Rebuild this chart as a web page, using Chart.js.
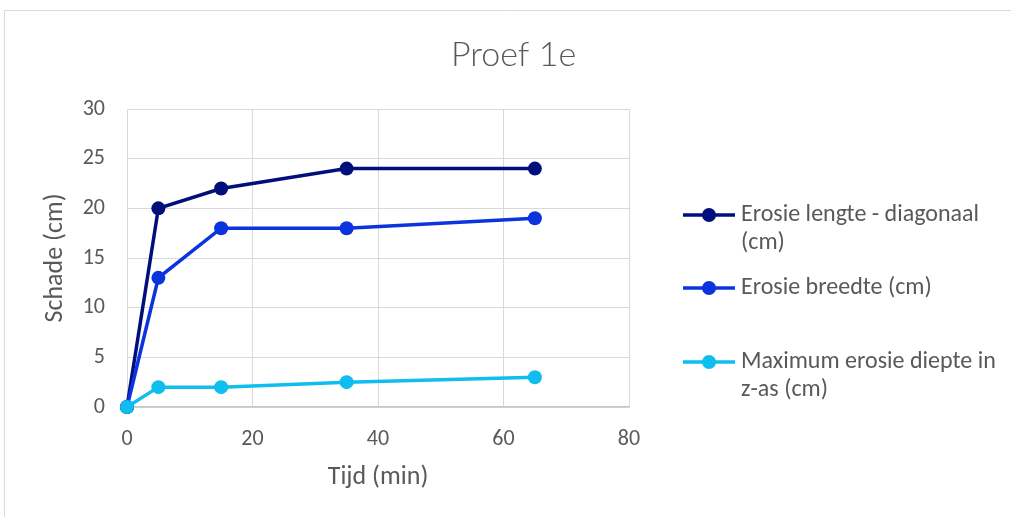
<!DOCTYPE html>
<html>
<head>
<meta charset="utf-8">
<title>Proef 1e</title>
<script src="https://cdn.jsdelivr.net/npm/chart.js@4.4.1/dist/chart.umd.min.js"></script>
<style>
  html, body { margin: 0; padding: 0; background: #fff; }
  canvas { display: block; }
</style>
</head>
<body>
<canvas id="chart" width="1011" height="517"></canvas>
<script>
// --- DATA ---
const timeMin = [0, 5, 15, 35, 65];
const erosieLengte = [0, 20, 22, 24, 24];
const erosieBreedte = [0, 13, 18, 18, 19];
const erosieDiepte = [0, 2, 2, 2.5, 3];
const seriesNames = [
    ['Erosie lengte - diagonaal', '(cm)'],
    ['Erosie breedte (cm)'],
    ['Maximum erosie diepte in', 'z-as (cm)']
];
const seriesColors = ['#000F7C', '#0B34DE', '#0FBEEE'];
const chartTitle = 'Proef 1e';
const xTitle = 'Tijd (min)';
const yTitle = 'Schade (cm)';

const FONT = 'Carlito, Lato, sans-serif';
const TEXT = '#595959';
const GRID = '#d9d9d9';

function toPoints(ys) {
    return timeMin.map((t, i) => ({ x: t, y: ys[i] }));
}

// --- PLUGINS ---
// light frame + title centred on the whole picture
const frame = {
    id: 'frame',
    beforeDraw(chart) {
        const ctx = chart.ctx;
        ctx.save();
        ctx.strokeStyle = GRID;
        ctx.lineWidth = 1;
        ctx.beginPath();
        ctx.moveTo(4.5, chart.height);
        ctx.lineTo(4.5, 10.5);
        ctx.lineTo(chart.width, 10.5);
        ctx.stroke();

        ctx.fillStyle = TEXT;
        ctx.font = '300 34px Lato, ' + FONT;
        ctx.textAlign = 'center';
        ctx.textBaseline = 'middle';
        ctx.fillText(chartTitle, chart.width / 2 + 8, 55);
        ctx.restore();
    }
};

// legend on the right with wrapped labels
const sideLegend = {
    id: 'sideLegend',
    afterDraw(chart) {
        const ctx = chart.ctx;
        const x0 = chart.chartArea.right + 54;
        const itemY = [215, 288, 362];
        ctx.save();
        ctx.font = '24px ' + FONT;
        ctx.textBaseline = 'middle';
        ctx.textAlign = 'left';
        chart.data.datasets.forEach((ds, i) => {
            const y = itemY[i];
            ctx.strokeStyle = ds.borderColor;
            ctx.lineWidth = 3.5;
            ctx.beginPath();
            ctx.moveTo(x0, y);
            ctx.lineTo(x0 + 52, y);
            ctx.stroke();
            ctx.fillStyle = ds.backgroundColor;
            ctx.beginPath();
            ctx.arc(x0 + 26, y, 7, 0, Math.PI * 2);
            ctx.fill();
            ctx.fillStyle = TEXT;
            ds.legendLines.forEach((line, k) => {
                ctx.fillText(line, x0 + 58, y + k * 28);
            });
        });
        ctx.restore();
    }
};

function makeSeries(ys, i, order) {
    return {
        label: seriesNames[i].join(' '),
        legendLines: seriesNames[i],
        data: toPoints(ys),
        showLine: true,
        clip: false,
        borderColor: seriesColors[i],
        backgroundColor: seriesColors[i],
        borderWidth: 3.5,
        pointRadius: 7,
        pointHoverRadius: 7,
        pointBorderWidth: 0,
        order: order
    };
}

new Chart(document.getElementById('chart'), {
    type: 'scatter',
    data: {
        datasets: [
            makeSeries(erosieLengte, 0, 2),
            makeSeries(erosieBreedte, 1, 1),
            makeSeries(erosieDiepte, 2, 0)
        ]
    },
    options: {
        responsive: false,
        animation: false,
        layout: { padding: { left: 40, right: 382, top: 109, bottom: 0 } },
        plugins: {
            legend: { display: false },
            tooltip: { enabled: false },
            title: { display: false }
        },
        scales: {
            x: {
                type: 'linear',
                min: 0,
                max: 80,
                ticks: { stepSize: 20, color: TEXT, font: { family: FONT, size: 22 }, padding: 19 },
                grid: { color: GRID, drawTicks: false },
                border: { color: '#c6c6c6', width: 1.5 },
                title: {
                    display: true,
                    text: xTitle,
                    color: TEXT,
                    font: { family: FONT, size: 26 },
                    padding: { top: 0, bottom: 24 }
                },
                afterFit(scale) { scale.height = 110; }
            },
            y: {
                min: 0,
                max: 30,
                ticks: { stepSize: 5, color: TEXT, font: { family: FONT, size: 22 }, padding: 22 },
                grid: { color: GRID, drawTicks: false },
                border: { color: GRID },
                title: {
                    display: true,
                    text: yTitle,
                    color: TEXT,
                    font: { family: FONT, size: 26 },
                    padding: { top: 0, bottom: 0 }
                },
                afterFit(scale) { scale.width = 87; }
            }
        }
    },
    plugins: [frame, sideLegend]
});
</script>
</body>
</html>
